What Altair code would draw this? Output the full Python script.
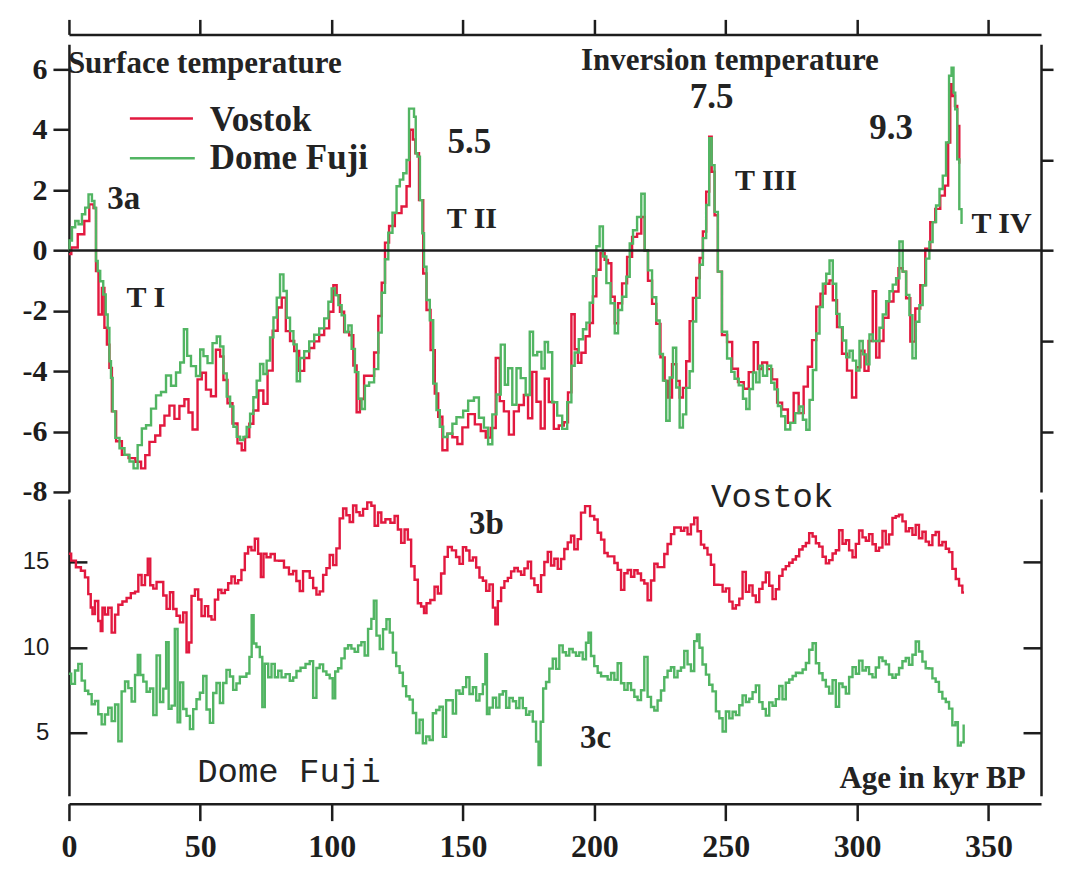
import altair as alt
import pandas as pd

# ---------------- data ----------------
# Fig 3a: surface temperature anomaly (deg C), Vostok (red) and Dome Fuji (green)
DF_SURF_KYR = [0, 0.5, 1.8, 3.0, 4.3, 5.6, 6.8, 8.1, 9.4, 10.0, 10.6, 11.3, 12.5, 13.6, 14.4, 15.1, 15.7, 16.3, 17.0, 18.3,
               20.2, 22.1, 24.0, 25.2, 27.1, 28.4, 30.3, 32.2, 34.1, 36.0, 37.9, 39.8, 41.7, 43.0, 44.5, 45.5, 47.4, 49.3, 50.6, 51.8,
               53.7, 55.6, 56.9, 58.2, 59.4, 60.7, 62.0, 63.2, 64.5, 65.8, 67.0, 68.3, 69.6, 70.8, 72.1, 73.4, 74.6, 75.9, 77.2, 78.5,
               79.7, 81.0, 82.3, 83.5, 84.8, 86.1, 87.3, 88.6, 90.5, 92.4, 94.3, 96.2, 98.1, 99.4, 100.6, 101.9, 103.2, 104.4, 105.7, 107.0,
               108.2, 109.5, 110.8, 112.0, 113.3, 115.2, 117.1, 118.4, 119.7, 120.9, 122.2, 124.1,
               125.3, 126.6, 127.9, 129.1, 129.8, 131.0, 131.7, 132.3, 133.0, 134.2, 134.8, 135.5, 136.7, 138.0, 139.3, 140.5, 141.8, 143.1,
               145.0, 146.9, 148.1, 149.4, 150.7, 153.2, 155.1, 157.0, 158.9, 160.2, 162.1, 163.4, 165.3, 166.5, 167.8, 169.7, 171.0, 172.9,
               174.8, 176.0, 177.3, 179.2, 180.5, 181.7, 183.0, 184.9, 186.8, 188.7, 190.6, 191.9, 193.1, 195.0, 196.3, 197.6, 198.8, 200.1,
               201.4, 202.6, 203.9, 205.2, 207.1, 208.4, 209.6, 211.5, 212.8, 214.1, 215.3, 217.2, 218.5, 219.8, 221.0, 222.9, 224.2, 225.5,
               226.7, 228.0, 229.3, 230.5, 231.8, 233.1, 234.3, 235.6, 236.9, 238.1, 239.4, 240.7, 241.9, 243.2, 244.2, 245.1, 246.4, 247.6,
               249.5, 251.5, 252.7, 254.0, 255.9, 257.2, 258.4, 259.7, 261.0, 262.2, 263.5, 264.8, 266.7, 267.9, 269.2, 270.5, 271.7, 273.6,
               275.5, 277.4, 278.7, 280.0, 281.3, 282.5, 283.8, 285.1, 286.3, 287.6, 288.9, 290.1, 291.4, 292.7, 293.9, 295.2, 296.5, 297.7,
               299.0, 300.3, 301.5, 302.8, 304.1, 305.3, 306.6, 307.9, 309.1, 310.4, 311.7, 312.9, 314.2, 315.5, 316.7, 318.0, 319.3, 320.5,
               321.6, 323.1, 324.3, 325.6, 326.9, 328.1, 329.4, 330.7, 332.0, 333.2, 334.5, 335.5, 336.4, 337.0, 337.7, 338.5, 339.3, 340.2]
DF_SURF_T = [0.0, 0.33, 0.77, 0.98, 0.87, 1.20, 1.42, 1.86, 1.64, 1.41, -0.35, -0.68, -1.02, -1.46, -2.12, -2.57, -3.67, -4.22, -5.33, -6.21,
             -6.55, -6.77, -6.99, -7.22, -6.45, -5.90, -5.79, -5.24, -4.80, -4.69, -4.14, -4.48, -4.04, -3.71, -2.61, -3.49, -3.83, -4.16, -3.28, -3.50,
             -3.73, -3.07, -2.85, -3.18, -4.07, -4.84, -5.17, -5.84, -6.17, -6.28, -6.18, -5.85, -5.41, -4.86, -4.31, -3.76, -4.09, -3.65, -2.88, -2.22,
             -1.56, -0.79, -1.34, -2.23, -2.67, -3.11, -4.33, -3.56, -3.34, -3.01, -2.79, -2.58, -2.25, -1.70, -1.26, -1.48, -1.81, -2.15, -2.70, -2.48,
             -3.26, -4.03, -4.91, -5.25, -4.48, -4.37, -3.93, -2.72, -1.40, -0.29, 0.59, 1.25,
             2.13, 2.35, 2.56, 3.00, 4.70, 4.70, 4.43, 3.22, 3.11, 1.67, 0.57, -0.54, -1.64, -2.31, -4.41, -5.29, -5.84, -6.18,
             -6.07, -5.74, -5.52, -5.53, -5.31, -4.98, -4.87, -5.54, -5.87, -6.42, -5.43, -4.77, -3.12, -4.45, -3.90, -5.11, -3.90, -4.23,
             -4.79, -2.69, -3.47, -3.36, -3.91, -3.03, -3.37, -5.03, -5.47, -5.91, -5.03, -3.82, -3.38, -2.94, -2.61, -2.39, -1.73, -0.85,
             0.14, 0.80, -0.20, -1.08, -1.75, -2.74, -1.97, -1.53, -0.87, 0.23, 0.67, 1.11, 1.88, 0.0, -0.66, -1.55, -2.32, -3.43,
             -4.31, -5.64, -4.21, -3.22, -4.54, -5.87, -5.43, -4.55, -4.00, -2.35, -1.57, -0.47, 0.41, 1.51, 3.72, 2.83, 1.28, -0.70,
             -2.69, -3.58, -4.02, -4.25, -4.47, -4.91, -5.25, -4.59, -4.04, -4.37, -3.82, -4.15, -3.82, -4.38, -4.60, -5.15, -5.49, -5.93,
             -5.71, -5.39, -5.17, -5.61, -5.94, -4.95, -3.96, -2.75, -1.87, -1.10, -0.77, -0.33, -1.10, -2.10, -2.54, -2.98, -3.54, -3.32,
             -3.65, -3.98, -3.00, -3.44, -3.77, -2.78, -3.00, -3.00, -2.56, -2.12, -1.68, -1.35, -1.13, -0.92, 0.30, -0.70, -1.47, -2.14,
             -3.57, -2.36, -1.81, -1.15, -0.27, 0.28, 0.94, 1.49, 2.04, 2.48, 3.58, 5.79, 6.06, 5.23, 4.68, 3.02, 1.37, 0.92]

VO_SURF_KYR = [0, 1.8, 4.9, 6.8, 8.7, 10.0, 10.6, 11.9, 13.2, 13.8, 15.1, 15.7, 17.0, 18.9, 21.4, 24.0, 26.5, 28.4, 29.7, 31.6,
               34.1, 35.4, 37.3, 39.2, 41.1, 43.0, 44.9, 46.1, 48.0, 49.9, 51.2, 53.1, 55.0, 56.9, 58.2, 59.4, 61.3, 63.2, 65.1, 66.4,
               67.7, 69.6, 70.8, 73.4, 74.6, 76.6, 78.5, 80.4, 81.6, 83.5, 84.8, 86.7, 88.6, 90.5, 92.4, 94.3, 96.2, 98.1, 100.0, 101.3,
               102.5, 103.8, 105.7, 107.6, 108.9, 110.1, 111.4, 113.3, 115.2, 117.1, 118.4, 119.7, 120.9, 122.8,
               125.3, 127.9, 129.1, 130.4, 131.4, 132.3, 134.2, 135.5, 136.7, 138.6, 139.9, 141.2, 143.1, 145.0, 146.9, 148.8, 150.7, 153.2,
               155.8, 157.7, 159.6, 161.5, 163.4, 164.6, 166.5, 168.4, 170.3, 172.2, 174.1, 175.4, 177.3, 178.6, 180.5, 181.7, 183.6, 185.5,
               187.4, 189.3, 190.6, 191.9, 193.1, 194.4, 195.7, 197.6, 198.8, 200.1, 201.4, 203.3, 204.5, 205.8, 207.1, 208.4, 209.6, 211.5,
               213.4, 215.3, 217.2, 218.5, 219.8, 221.0, 222.9, 224.2, 226.1, 227.4, 228.6, 230.5, 231.8, 233.1, 234.3, 235.6, 236.9, 238.1,
               239.4, 240.7, 241.9, 243.2, 244.2, 245.1, 246.4, 247.6, 249.5,
               251.5, 253.4, 255.9, 257.8, 259.7, 261.6, 262.9, 264.8, 266.7, 268.6, 270.5, 272.4, 274.9, 276.8, 278.7, 280.6, 281.9, 283.8,
               285.1, 287.0, 288.9, 290.1, 291.4, 293.3, 295.2, 297.1, 299.0, 300.3, 302.2, 303.4, 305.3, 306.6, 307.9, 309.1, 311.0, 312.9,
               314.8, 316.7, 318.0, 319.3, 321.2, 323.1, 325.0, 326.9, 328.8, 330.7, 332.6, 334.2, 335.1, 335.8, 336.8, 337.7, 338.5, 339.3]
VO_SURF_T = [-0.12, 0.10, 0.54, 0.98, 1.53, 1.41, -0.68, -2.12, -1.24, -2.56, -3.12, -3.89, -5.33, -6.32, -6.77, -6.88, -7.00, -7.22, -6.78, -6.34,
             -6.13, -5.80, -5.47, -5.14, -5.58, -5.15, -4.93, -5.37, -5.93, -4.27, -4.05, -4.61, -4.83, -3.29, -3.51, -4.29, -5.06, -5.73, -6.39, -6.62,
             -6.18, -5.74, -5.30, -4.64, -5.08, -3.98, -2.66, -1.89, -1.56, -2.67, -3.00, -3.33, -3.99, -3.56, -3.23, -3.01, -2.80, -2.58, -2.03, -1.15,
             -1.48, -2.03, -2.70, -2.81, -3.81, -5.36, -4.92, -4.15, -4.15, -3.38, -2.17, -1.07, 0.26, 0.81,
             1.24, 1.46, 2.13, 4.00, 3.68, 3.22, 1.67, -0.76, -1.97, -3.30, -4.74, -5.51, -6.62, -6.07, -6.19, -6.41, -5.86, -5.42,
             -5.76, -5.98, -6.20, -5.88, -3.56, -4.99, -5.33, -6.10, -5.33, -5.12, -4.79, -5.56, -4.02, -5.01, -5.90, -4.25, -5.02, -5.91,
             -5.80, -5.69, -4.70, -2.11, -3.27, -3.72, -3.39, -2.84, -2.40, -1.52, -0.64, -0.09, -0.31, -0.42, -1.53, -2.41, -1.75, -1.09,
             -0.21, 0.45, 0.56, 1.11, 0.0, -1.00, -1.77, -2.43, -3.54, -4.32, -4.87, -3.77, -4.32, -4.87, -4.55, -3.67, -2.34, -1.57,
             -0.91, -0.25, 0.63, 1.95, 3.77, 2.61, 1.17, -0.70, -2.80,
             -3.03, -3.92, -4.36, -4.58, -4.03, -3.04, -3.93, -3.71, -3.93, -4.27, -5.04, -5.27, -5.71, -4.72, -5.39, -4.51, -3.85, -2.97,
             -1.86, -1.43, -1.10, -0.99, -1.65, -2.54, -3.42, -3.98, -4.87, -3.87, -3.32, -3.99, -3.00, -1.35, -3.55, -3.00, -2.23, -1.69,
             -1.36, -0.59, -0.70, -1.58, -3.02, -1.92, -1.15, 0.06, 0.94, 1.38, 1.82, 2.15, 3.58, 5.51, 5.12, 4.79, 4.13, 2.91]

# Fig 3b: Vostok inversion temperature (deg C)
VO_INV_KYR = [0, 1.7, 3.6, 5.5, 6.7, 8.0, 8.6, 9.3, 10.5, 11.8, 12.4, 13.1, 14.3, 15.6, 16.9, 18.2, 19.4, 21.3, 22.6, 24.5,
              25.8, 27.0, 28.3, 29.6, 30.4, 31.5, 32.7, 34.0, 35.3, 36.5, 37.8, 39.1, 40.3, 41.6, 42.9, 44.1, 45.4, 46.0, 47.3, 48.6,
              49.8, 51.1, 52.4, 53.6, 54.9, 56.2, 57.4, 58.7, 60.0, 61.2, 62.5, 63.8, 65.0, 66.3, 67.6, 68.8, 70.1, 71.4, 72.6, 73.5,
              74.6, 75.8, 77.7, 79.0, 80.9, 82.8, 84.7, 85.9, 87.2, 88.5, 89.7, 91.0, 92.3, 93.6, 94.8, 96.1, 97.4, 98.6, 99.9, 101.2,
              102.4, 103.7, 105.0, 106.2, 107.5, 108.8, 110.0, 111.3, 112.6, 114.5, 115.7, 117.0, 118.3, 119.5, 121.4,
              123.3, 124.6, 125.8, 127.1, 128.4, 129.6, 130.9, 132.2, 133.4, 134.7, 135.6, 136.6, 138.5, 139.8, 141.0, 142.3, 143.6, 144.8,
              146.7, 148.0, 149.3, 150.6, 151.8, 153.1, 154.4, 155.6, 156.9, 158.2, 159.4, 160.7, 162.0, 162.6, 163.9, 165.1, 166.4, 167.7,
              168.9, 170.2, 171.5, 172.7, 174.0, 175.3, 176.5, 177.8, 179.1, 180.3, 181.6, 182.9, 184.1, 185.4, 186.7, 187.9, 189.2, 190.5,
              191.7, 193.0, 194.3, 195.5, 197.4, 199.3, 200.6, 201.9, 203.2, 204.4, 205.7, 207.0, 208.2, 209.5, 210.8, 212.0, 213.3, 214.6,
              215.8, 217.1, 218.4, 219.6, 220.9, 222.2, 223.4, 224.7, 226.0, 227.2, 228.5, 229.8, 231.0, 232.3, 233.6, 234.8, 236.1, 237.4,
              238.6, 239.9, 241.2, 242.4, 243.7, 245.0, 246.2,
              248.2, 249.4, 250.7, 252.0, 253.2, 254.5, 255.8, 257.0, 258.3, 259.6, 260.8, 262.1, 263.4, 264.6, 265.9, 267.2, 268.4, 269.7,
              271.0, 272.2, 273.5, 274.8, 276.1, 277.3, 278.6, 279.9, 281.1, 282.4, 283.7, 284.9, 286.2, 287.5, 288.7, 290.0, 291.3, 292.5,
              293.8, 295.1, 296.3, 297.6, 298.9, 300.1, 301.4, 302.7, 303.9, 305.2, 306.5, 307.7, 309.0, 310.3, 311.5, 312.8, 314.1, 315.3,
              316.6, 317.9, 319.1, 320.4, 321.7, 322.9, 324.2, 325.5, 326.7, 328.0, 329.3, 330.5, 331.8, 333.1, 334.4, 335.6, 336.9, 338.2,
              339.4, 340.7]
VO_INV_T = [15.47, 15.07, 14.68, 14.48, 14.09, 13.11, 12.33, 11.94, 12.71, 11.54, 10.95, 12.32, 11.92, 12.31, 10.86, 11.91, 12.49, 12.68, 12.88, 13.16,
            13.26, 14.23, 13.64, 14.22, 15.19, 13.63, 13.43, 13.82, 13.82, 13.03, 12.25, 13.22, 12.24, 11.85, 11.46, 12.04, 9.70, 10.28, 13.01, 13.39,
            12.80, 11.83, 12.41, 11.82, 11.62, 12.79, 13.37, 13.17, 13.36, 13.75, 14.14, 13.74, 13.93, 14.52, 15.49, 15.87, 15.67, 16.35, 15.47, 14.11,
            15.47, 15.27, 15.46, 15.07, 15.06, 14.67, 14.27, 14.46, 13.88, 13.29, 14.45, 14.45, 14.06, 13.47, 13.08, 13.27, 14.24, 14.63, 15.40, 14.81,
            15.79, 17.54, 18.12, 17.73, 17.33, 18.30, 17.91, 17.71, 18.10, 18.48, 18.28, 17.11, 17.89, 17.30, 17.49,
            17.29, 17.68, 16.89, 16.11, 16.89, 16.30, 14.74, 13.95, 12.58, 12.39, 12.00, 12.58, 12.77, 13.54, 13.15, 14.32, 15.29, 15.87,
            15.67, 15.28, 14.88, 15.86, 15.66, 15.07, 15.26, 14.67, 14.08, 13.89, 13.30, 13.68, 12.32, 11.34, 12.70, 13.48, 13.87, 14.06,
            14.44, 14.64, 14.44, 14.24, 14.62, 15.01, 14.03, 13.64, 13.25, 14.22, 14.99, 15.58, 14.79, 15.18, 14.59, 15.17, 15.75, 16.14,
            16.53, 15.74, 16.33, 17.88, 18.26, 17.68, 17.48, 16.70, 16.30, 15.52, 15.32, 15.32, 14.93, 14.53, 13.36, 14.33, 14.52, 14.13,
            14.51, 14.32, 13.92, 13.73, 12.75, 13.91, 14.89, 14.69, 14.69, 15.46, 16.04, 16.62, 17.01, 17.01, 16.81, 17.00, 16.61, 17.19,
            17.58, 16.79, 16.01, 15.81, 15.42, 14.83, 13.66,
            13.65, 13.26, 13.45, 12.67, 12.27, 12.47, 12.85, 14.41, 13.24, 13.62, 13.03, 12.64, 13.42, 13.80, 14.38, 13.60, 12.82, 13.40,
            14.18, 14.56, 14.75, 14.95, 15.14, 15.33, 15.72, 15.91, 16.10, 16.68, 16.48, 16.09, 15.89, 15.30, 14.91, 15.10, 15.49, 15.68,
            16.85, 16.06, 16.26, 15.67, 15.27, 16.05, 16.83, 16.43, 16.23, 16.62, 16.03, 15.64, 15.83, 16.80, 16.02, 16.60, 17.57, 17.67,
            17.76, 17.37, 16.78, 16.97, 16.58, 17.16, 16.38, 16.76, 16.18, 15.98, 16.56, 16.75, 15.97, 16.16, 15.77, 15.57, 14.59, 14.00,
            13.61, 13.21]

# Fig 3c: Dome Fuji inversion temperature (deg C)
DF_INV_KYR = [0, 1.7, 2.9, 4.2, 5.5, 6.7, 8.0, 9.3, 10.5, 11.8, 13.1, 14.3, 15.6, 16.9, 18.2, 19.4, 20.7, 22.0, 23.2, 24.5,
              25.8, 26.6, 27.7, 28.9, 30.2, 31.5, 32.7, 34.0, 35.3, 36.5, 37.5, 38.4, 39.7, 40.9, 41.8, 42.9, 44.1, 45.4, 46.7, 47.9,
              49.2, 50.5, 51.7, 53.0, 54.3, 55.5, 56.8, 58.1, 59.3, 60.6, 61.9, 63.1, 64.4, 65.7, 66.9, 68.2, 69.2, 69.9, 70.7, 72.0,
              73.3, 73.9, 75.2, 76.5, 77.7, 79.0, 80.3, 81.5, 83.4, 84.7, 86.0, 87.2, 89.1, 91.0, 92.3, 93.6, 94.8, 96.1, 97.4, 98.6,
              99.9, 100.9, 101.8, 103.1, 104.3, 105.6, 106.9, 108.1, 109.4, 110.7, 111.9, 113.2, 114.5, 115.7, 116.4, 117.7, 118.9, 120.2, 121.5,
              122.7, 123.9, 125.2, 126.5, 127.7, 129.0, 130.3, 131.5, 132.8, 134.1, 135.3, 136.6, 137.9, 139.1, 140.4, 141.7, 142.9, 144.2,
              145.5, 146.7, 148.0, 149.3, 150.6, 151.8, 153.1, 154.4, 155.6, 156.9, 158.2, 158.8, 159.4, 160.7, 162.0, 163.2, 164.5, 165.8,
              167.0, 168.3, 169.6, 170.8, 172.1, 173.4, 174.6, 175.9, 177.2, 178.4, 179.1, 180.0, 181.0, 182.2, 183.5, 184.8, 186.0, 187.3,
              188.6, 189.8, 191.1, 192.4, 193.6, 194.9, 196.2, 197.4, 198.1, 199.3, 200.6, 201.9, 203.2, 204.4, 205.7, 207.0, 208.2, 209.5,
              210.8, 212.0, 213.3, 214.6, 215.8, 217.1, 218.4, 219.6, 220.9, 222.2, 223.4, 224.7, 226.0, 227.2, 228.5, 229.8, 231.0, 232.3,
              233.6, 234.8, 236.1, 237.4, 238.6, 239.5, 240.5, 241.8, 243.1, 244.3, 245.6, 246.9,
              248.2, 249.4, 250.7, 252.0, 253.2, 254.5, 255.8, 257.0, 258.3, 259.6, 260.8, 262.1, 263.4, 264.6, 265.9, 267.2, 268.4, 269.7,
              271.0, 272.2, 273.5, 274.8, 276.1, 277.3, 278.6, 279.9, 281.1, 282.4, 283.7, 284.9, 286.2, 287.5, 288.7, 290.0, 291.3, 292.5,
              293.8, 295.1, 296.3, 297.6, 298.9, 300.1, 301.4, 302.7, 303.9, 305.2, 306.5, 307.7, 309.0, 310.3, 311.5, 312.8, 314.1, 315.3,
              316.6, 317.9, 319.1, 320.4, 321.7, 322.9, 324.2, 325.5, 326.7, 328.0, 329.3, 330.5, 331.8, 333.1, 334.4, 335.6, 336.9, 337.9,
              338.8, 340.1, 341.0]
DF_INV_T = [8.45, 7.86, 8.64, 9.03, 8.05, 7.46, 7.26, 6.67, 6.86, 6.08, 5.49, 6.07, 6.46, 5.68, 6.65, 4.50, 7.42, 8.00, 7.61, 6.83,
            8.38, 9.55, 8.38, 7.99, 7.40, 7.59, 6.03, 9.53, 6.80, 7.58, 10.30, 6.40, 6.59, 11.07, 5.61, 7.95, 6.39, 5.99, 5.21, 6.38,
            6.96, 7.34, 8.32, 6.36, 5.58, 7.33, 7.91, 6.74, 7.91, 8.68, 8.29, 7.51, 7.89, 8.28, 8.28, 8.47, 9.44, 11.88, 10.22, 10.02,
            9.43, 6.50, 9.04, 8.25, 9.03, 8.25, 8.63, 8.24, 8.43, 8.04, 8.23, 8.61, 8.80, 9.02, 9.19, 7.04, 8.79, 9.00, 8.59, 8.39,
            8.19, 7.02, 8.58, 8.77, 9.35, 9.93, 10.12, 9.92, 9.73, 10.11, 10.30, 9.52, 11.08, 11.66, 12.73, 10.68, 9.90, 11.06, 11.64,
            10.86, 9.69, 8.90, 8.51, 7.73, 7.14, 6.94, 6.16, 4.99, 5.76, 4.39, 4.78, 4.58, 6.14, 6.33, 6.52, 4.76, 6.90,
            6.90, 6.12, 7.48, 7.28, 7.67, 8.25, 7.27, 7.66, 6.88, 7.26, 7.84, 9.60, 6.09, 6.47, 7.05, 6.47, 7.24, 7.43,
            6.46, 7.04, 6.84, 6.45, 7.03, 6.44, 6.05, 6.24, 5.65, 4.48, 3.11, 5.64, 7.59, 7.97, 8.75, 9.33, 8.74, 10.11,
            9.71, 9.51, 9.90, 9.70, 9.50, 9.70, 9.30, 10.27, 10.85, 9.49, 8.90, 8.51, 8.31, 8.31, 8.11, 8.50, 8.10, 9.07,
            7.90, 7.51, 7.90, 7.50, 7.11, 6.91, 7.49, 9.44, 7.10, 6.51, 6.30, 6.89, 7.47, 8.25, 8.63, 8.83, 8.24, 8.62,
            8.82, 9.79, 9.00, 8.61, 10.36, 10.75, 9.97, 8.99, 8.40, 7.81, 7.42, 6.25,
            5.85, 5.07, 6.24, 5.84, 6.23, 6.03, 6.61, 7.19, 6.80, 6.99, 7.38, 7.77, 6.79, 6.40, 6.00, 6.78, 6.58, 6.97,
            7.74, 6.96, 7.93, 8.12, 8.32, 8.51, 8.50, 8.70, 9.08, 9.86, 10.24, 9.07, 8.48, 8.09, 7.70, 7.30, 8.08, 6.52,
            7.88, 7.68, 7.29, 8.26, 8.84, 8.45, 9.22, 8.64, 8.83, 8.43, 8.24, 8.82, 9.40, 9.20, 9.00, 8.41, 8.22, 8.41,
            8.79, 9.18, 9.37, 8.98, 9.56, 10.34, 9.75, 9.16, 8.77, 8.76, 8.18, 7.98, 7.39, 7.00, 6.80, 6.41, 5.43, 5.62,
            4.25, 4.44, 5.42]

# axis ticks
X_TICKS = [0, 50, 100, 150, 200, 250, 300, 350]
UP_LEFT_TICKS = [-8, -6, -4, -2, 0, 2, 4, 6]
UP_RIGHT_TICKS = [-6, -3, 0, 3, 6]
LO_TICKS = [5, 10, 15]
ZERO = [0]

# annotations (text, position in data units)
UP_TXT = ["Surface temperature", "Inversion temperature", "Vostok", "Dome Fuji", "3a", "T I",
          "5.5", "T II", "7.5", "T III", "9.3", "T IV"]
UP_TXT_KYR = [-0.4, 194.9, 53.6, 53.6, 14.6, 21.9, 144.1, 143.8, 236.3, 253.5, 304.6, 343.5]
UP_TXT_T = [6.17, 6.28, 4.31, 3.05, 1.72, -1.57, 3.61, 1.06, 5.07, 2.29, 4.07, 0.87]
UP_TXT_SIZE = [31, 31, 35, 35, 33, 30, 35, 30, 35, 30, 35, 30]

LEG_NAME = ["Vostok", "Dome Fuji"]
LEG_KYR0 = [23.2, 23.2]
LEG_KYR1 = [47.2, 47.9]
LEG_T = [4.37, 3.06]

LO_SERIF_TXT = ["3b", "3c", "Age in kyr BP"]
LO_SERIF_KYR = [152.3, 194.5, 293.3]
LO_SERIF_T = [17.23, 4.67, 2.28]
LO_SERIF_SIZE = [33, 33, 31]

LO_MONO_TXT = ["Vostok", "Dome Fuji"]
LO_MONO_KYR = [244.4, 48.8]
LO_MONO_T = [18.78, 2.71]

# ---------------- style ----------------
RED = "#e2193f"
GREEN = "#52b563"
INK = "#1d1d1d"
SERIF = "Liberation Serif"
MONO = "Liberation Mono"
SANS = "Liberation Sans"

W = 973
H_UP = 448
H_LO = 297
xs = alt.Scale(domain=[0, 370], nice=False, zero=False)
ys_up = alt.Scale(domain=[-8, 6.83], nice=False, zero=False)
ys_lo = alt.Scale(domain=[1.32, 18.68], nice=False, zero=False)

LW = 2.5
common = dict(domainColor=INK, tickColor=INK, domainWidth=LW, tickWidth=LW, grid=False, title=None,
              labelColor=INK, labelOverlap=False, labelFlush=False)

top_axis = alt.Axis(orient="top", values=X_TICKS, labels=False, tickSize=15, offset=10, **common)
bottom_axis = alt.Axis(orient="bottom", values=X_TICKS, tickSize=17, offset=8, labelPadding=11,
                       labelFont=SERIF, labelFontWeight="bold", labelFontSize=32, **common)
up_left_axis = alt.Axis(orient="left", values=UP_LEFT_TICKS, tickSize=16, labelPadding=6,
                        labelExpr="'' + datum.value",
                        labelFont=SERIF, labelFontWeight="bold", labelFontSize=30, **common)
up_right_axis = alt.Axis(orient="right", values=UP_RIGHT_TICKS, tickSize=12, labels=False, **common)
lo_left_axis = alt.Axis(orient="left", values=LO_TICKS, ticks=False, labelPadding=20,
                        labelFont=SANS, labelFontSize=24, **common)
lo_left_inticks = alt.Axis(orient="right", values=LO_TICKS, offset=-W, tickSize=18, labels=False,
                           domain=False, **common)
lo_right_axis = alt.Axis(orient="right", values=LO_TICKS, ticks=False, labels=False, **common)
lo_right_inticks = alt.Axis(orient="left", values=LO_TICKS, offset=-W, tickSize=18, labels=False,
                            domain=False, **common)

CURVE_W = 2.4

# ---------------- upper panel (3a) ----------------
x_up = alt.X("kyr:Q", scale=xs, axis=top_axis)

vo_surf = pd.DataFrame({"kyr": VO_SURF_KYR, "t": VO_SURF_T})
df_surf = pd.DataFrame({"kyr": DF_SURF_KYR, "t": DF_SURF_T})

up_red = alt.Chart(vo_surf).mark_line(color=RED, strokeWidth=CURVE_W, interpolate="step").encode(
    x=x_up, y=alt.Y("t:Q", scale=ys_up, axis=up_left_axis))
up_green = alt.Chart(df_surf).mark_line(color=GREEN, strokeWidth=CURVE_W, interpolate="step").encode(
    x=x_up, y=alt.Y("t:Q", scale=ys_up, axis=None))
up_zero = alt.Chart(pd.DataFrame({"t": ZERO})).mark_rule(color=INK, strokeWidth=2.4).encode(
    y=alt.Y("t:Q", scale=ys_up, axis=up_right_axis))

leg = pd.DataFrame({"name": LEG_NAME, "kyr": LEG_KYR0, "kyr1": LEG_KYR1, "t": LEG_T})
up_leg = alt.Chart(leg).mark_rule(strokeWidth=2.5).encode(
    x=x_up, x2="kyr1:Q", y=alt.Y("t:Q", scale=ys_up, axis=None),
    color=alt.Color("name:N", scale=alt.Scale(domain=LEG_NAME, range=[RED, GREEN]), legend=None))

up_txt_df = pd.DataFrame({"label": UP_TXT, "kyr": UP_TXT_KYR, "t": UP_TXT_T, "fs": UP_TXT_SIZE})
up_txt = alt.Chart(up_txt_df).mark_text(font=SERIF, fontWeight="bold", align="left", baseline="middle",
                                        color="#232323").encode(
    x=x_up, y=alt.Y("t:Q", scale=ys_up, axis=None), text="label:N", size=alt.Size("fs:Q", scale=None))

upper = alt.layer(up_red, up_green, up_zero, up_leg, up_txt).resolve_scale(y="independent").resolve_axis(
    y="independent").properties(width=W, height=H_UP)

# ---------------- lower panel (3b, 3c) ----------------
x_lo = alt.X("kyr:Q", scale=xs, axis=bottom_axis)

vo_inv = pd.DataFrame({"kyr": VO_INV_KYR, "t": VO_INV_T})
df_inv = pd.DataFrame({"kyr": DF_INV_KYR, "t": DF_INV_T})
tick_df = pd.DataFrame({"t": LO_TICKS})

lo_red = alt.Chart(vo_inv).mark_line(color=RED, strokeWidth=CURVE_W, interpolate="step").encode(
    x=x_lo, y=alt.Y("t:Q", scale=ys_lo, axis=lo_left_axis))
lo_green = alt.Chart(df_inv).mark_line(color=GREEN, strokeWidth=CURVE_W, interpolate="step").encode(
    x=x_lo, y=alt.Y("t:Q", scale=ys_lo, axis=lo_left_inticks))
lo_r1 = alt.Chart(tick_df).mark_rule(opacity=0).encode(y=alt.Y("t:Q", scale=ys_lo, axis=lo_right_axis))
lo_r2 = alt.Chart(tick_df).mark_rule(opacity=0).encode(y=alt.Y("t:Q", scale=ys_lo, axis=lo_right_inticks))

lo_serif_df = pd.DataFrame({"label": LO_SERIF_TXT, "kyr": LO_SERIF_KYR, "t": LO_SERIF_T, "fs": LO_SERIF_SIZE})
lo_serif = alt.Chart(lo_serif_df).mark_text(font=SERIF, fontWeight="bold", align="left", baseline="middle",
                                            color="#232323").encode(
    x=x_lo, y=alt.Y("t:Q", scale=ys_lo, axis=None), text="label:N", size=alt.Size("fs:Q", scale=None))
lo_mono_df = pd.DataFrame({"label": LO_MONO_TXT, "kyr": LO_MONO_KYR, "t": LO_MONO_T})
lo_mono = alt.Chart(lo_mono_df).mark_text(font=MONO, fontSize=34, align="left", baseline="middle",
                                          color="#232323").encode(
    x=x_lo, y=alt.Y("t:Q", scale=ys_lo, axis=None), text="label:N")

lower = alt.layer(lo_red, lo_green, lo_r1, lo_r2, lo_serif, lo_mono).resolve_scale(
    y="independent").resolve_axis(y="independent").properties(width=W, height=H_LO)

chart = alt.vconcat(upper, lower, spacing=7, bounds="flush").properties(
    padding={"left": 14, "top": 9, "right": 5, "bottom": 0},
    background="white",
).configure_view(stroke=None)

chart.save("out.html", embed_options={"renderer": "svg", "actions": False})
